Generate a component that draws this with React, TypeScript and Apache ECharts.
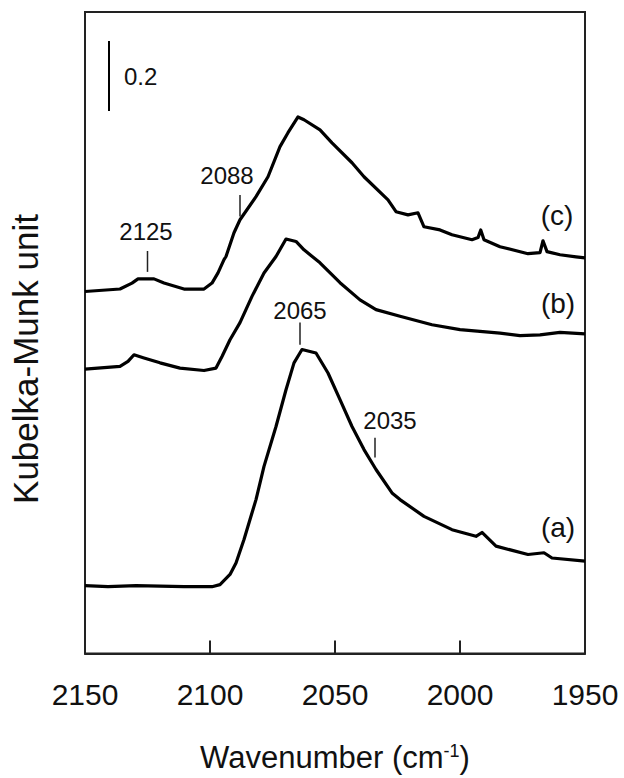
import React, { useEffect, useRef } from "react";
import * as echarts from "echarts";

// Spectrum (a)
const waveA = [2150, 2140.8, 2129.6, 2110.4, 2099.2, 2096, 2092, 2089.6, 2086.4, 2084, 2081.6, 2078.4, 2073.6, 2069.6, 2066.4, 2063.2, 2057.6, 2052.8, 2048, 2043.2, 2038.4, 2033.6, 2027.2, 2024, 2014.4, 2003.2, 1993.6, 1991.2, 1985.6, 1972.8, 1966.4, 1963.2, 1950];
const kmA = [0.194, 0.191, 0.194, 0.191, 0.191, 0.197, 0.226, 0.259, 0.326, 0.383, 0.44, 0.535, 0.649, 0.754, 0.831, 0.869, 0.859, 0.802, 0.726, 0.649, 0.583, 0.526, 0.459, 0.44, 0.392, 0.354, 0.335, 0.346, 0.307, 0.283, 0.288, 0.273, 0.264];

// Spectrum (b)
const waveB = [2150, 2136, 2132.8, 2130.4, 2126.4, 2120, 2112, 2102.4, 2097.6, 2095.2, 2092, 2088, 2083.2, 2078.4, 2073.6, 2069.6, 2065.6, 2062.4, 2056, 2048, 2040, 2033.6, 2024, 2011.2, 2000, 1984, 1976, 1968, 1960, 1950];
const kmB = [0.813, 0.821, 0.835, 0.854, 0.845, 0.831, 0.816, 0.809, 0.816, 0.849, 0.897, 0.946, 1.021, 1.088, 1.135, 1.185, 1.178, 1.154, 1.117, 1.06, 1.011, 0.983, 0.964, 0.94, 0.926, 0.916, 0.909, 0.911, 0.918, 0.914];

// Spectrum (c)
const waveC = [2150, 2136, 2131.2, 2128.8, 2124.8, 2122.4, 2118.4, 2110.4, 2102.4, 2099.2, 2096.8, 2094.4, 2093.6, 2090.4, 2088, 2081.6, 2076.8, 2072, 2068.8, 2064.8, 2062.4, 2056, 2051.2, 2043.2, 2038.4, 2028.8, 2025.6, 2020.8, 2016.8, 2014.4, 2008, 2003.2, 1995.2, 1992.8, 1991.7, 1990.4, 1984, 1972.8, 1968, 1966.8, 1965.2, 1960, 1953.6, 1950];
const kmC = [1.035, 1.042, 1.059, 1.071, 1.071, 1.071, 1.059, 1.042, 1.042, 1.059, 1.088, 1.126, 1.135, 1.203, 1.24, 1.306, 1.363, 1.449, 1.489, 1.534, 1.526, 1.497, 1.46, 1.403, 1.363, 1.297, 1.263, 1.254, 1.26, 1.22, 1.211, 1.197, 1.183, 1.189, 1.211, 1.183, 1.163, 1.143, 1.146, 1.18, 1.149, 1.14, 1.134, 1.131];

// Peak annotations
const peakText = ["2125", "2088", "2065", "2035"];
const peakWave = [2125, 2088, 2064, 2034];
const peakTickTop = [1.151, 1.311, 0.946, 0.617];
const peakTickBottom = [1.091, 1.249, 0.883, 0.56];
const peakLabelWave = [2125.6, 2093.2, 2064, 2028];
const peakLabelKm = [1.206, 1.366, 0.98, 0.666];

// Spectrum labels
const specText = ["(a)", "(b)", "(c)"];
const specWave = [1960.8, 1960.8, 1961.2];
const specKm = [0.36, 1.0, 1.251];

// Scale bar
const scaleWave = 2140.4;
const scaleTop = 1.751;
const scaleSize = 0.2;
const scaleLabel = "0.2";
const scaleLabelWave = 2134.4;

const xTicks = [2150, 2100, 2050, 2000, 1950];

const FONT = "'Liberation Sans', Arial, sans-serif";
const INK = "#111";

export default function App() {
  const ref = useRef<HTMLDivElement>(null);

  useEffect(() => {
    if (!ref.current) return;
    const chart = echarts.init(ref.current, undefined, { renderer: "svg" });

    const spectrum = (name: string, xs: number[], ys: number[]) => ({
      name,
      type: "line",
      data: xs.map((x, i) => [x, ys[i]]),
      showSymbol: false,
      symbol: "none",
      lineStyle: { color: "#000", width: 3.2, join: "round" },
      silent: true,
      z: 3,
    });

    const tickSeries = peakWave.map((w, i) => ({
      name: "tick " + peakText[i],
      type: "line",
      data: [
        [w, peakTickTop[i]],
        [w, peakTickBottom[i]],
      ],
      symbol: "none",
      lineStyle: { color: "#222", width: 1.5 },
      silent: true,
    }));

    const option: any = {
      animation: false,
      grid: {
        left: 85,
        right: 39,
        top: 12,
        bottom: 124,
        show: true,
        borderColor: "#222",
        borderWidth: 2,
        backgroundColor: "transparent",
      },
      xAxis: {
        type: "value",
        min: 1950,
        max: 2150,
        interval: 50,
        inverse: true,
        axisLine: { show: true, lineStyle: { color: "#222", width: 2 } },
        axisTick: { show: true, inside: true, length: 13, lineStyle: { color: "#222", width: 2 } },
        splitLine: { show: false },
        axisLabel: {
          fontSize: 30,
          fontFamily: FONT,
          color: INK,
          margin: 26,
          formatter: (v: number) => (xTicks.includes(v) ? String(v) : ""),
        },
        name: "Wavenumber (cm{sup|-1})",
        nameLocation: "middle",
        nameGap: 88,
        nameTextStyle: {
          fontSize: 31,
          fontFamily: FONT,
          color: INK,
          rich: {
            sup: { fontSize: 18, fontFamily: FONT, color: INK, verticalAlign: "top", padding: [0, 0, 14, 0] },
          },
        },
      },
      yAxis: {
        type: "value",
        min: 0,
        max: 1.834,
        axisLine: { show: false },
        axisTick: { show: false },
        axisLabel: { show: false },
        splitLine: { show: false },
      },
      graphic: [
        {
          type: "text",
          x: 25,
          y: 359,
          rotation: Math.PI / 2,
          style: {
            text: "Kubelka-Munk unit",
            fontSize: 35,
            fontFamily: FONT,
            fill: INK,
            align: "center",
            verticalAlign: "middle",
          },
        },
      ],
      series: [
        spectrum("(a)", waveA, kmA),
        spectrum("(b)", waveB, kmB),
        spectrum("(c)", waveC, kmC),
        ...tickSeries,
        {
          name: "scale bar",
          type: "line",
          data: [
            [scaleWave, scaleTop],
            [scaleWave, scaleTop - scaleSize],
          ],
          symbol: "none",
          lineStyle: { color: "#000", width: 2 },
          silent: true,
        },
        {
          name: "labels",
          type: "scatter",
          symbolSize: 0,
          silent: true,
          itemStyle: { opacity: 1, color: "#000" },
          data: [
            ...peakText.map((t, i) => ({
              value: [peakLabelWave[i], peakLabelKm[i]],
              label: { show: true, position: "inside", formatter: t, fontSize: 24, fontFamily: FONT, color: INK },
            })),
            ...specText.map((t, i) => ({
              value: [specWave[i], specKm[i]],
              label: { show: true, position: "inside", formatter: t, fontSize: 28, fontFamily: FONT, color: INK },
            })),
            {
              value: [scaleLabelWave, scaleTop - scaleSize / 2],
              label: {
                show: true,
                position: "right",
                distance: 0,
                formatter: scaleLabel,
                fontSize: 24,
                fontFamily: FONT,
                color: INK,
              },
            },
          ],
        },
      ],
    };

    chart.setOption(option);
    return () => chart.dispose();
  }, []);

  return (
    <div
      ref={ref}
      style={{ position: "fixed", left: 0, top: 0, width: 624, height: 778, background: "#fff" }}
    />
  );
}
